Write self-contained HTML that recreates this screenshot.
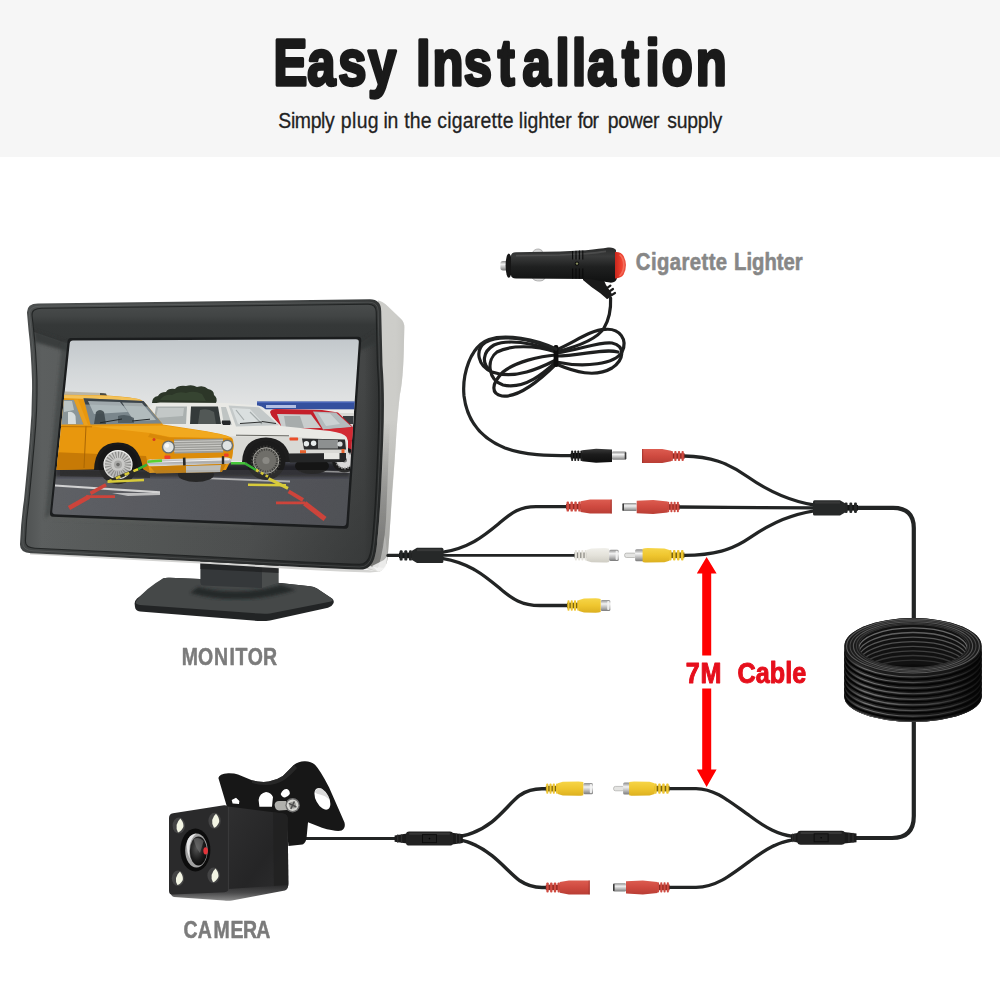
<!DOCTYPE html>
<html lang="en">
<head>
<meta charset="utf-8">
<title>Easy Installation</title>
<style>
html,body{margin:0;padding:0;background:#fff;}
body{width:1000px;height:1000px;overflow:hidden;font-family:"Liberation Sans",sans-serif;}
svg{display:block;}
text{font-family:"Liberation Sans",sans-serif;}
</style>
</head>
<body>
<svg width="1000" height="1000" viewBox="0 0 1000 1000">
<!-- defs -->
<defs>
  <linearGradient id="gFrame" gradientUnits="userSpaceOnUse" x1="24" y1="0" x2="382" y2="0">
    <stop offset="0" stop-color="#4e5151"/>
    <stop offset="0.05" stop-color="#5c5f5f"/>
    <stop offset="0.3" stop-color="#565958"/>
    <stop offset="0.65" stop-color="#4e5050"/>
    <stop offset="0.95" stop-color="#464848"/>
    <stop offset="1" stop-color="#2e3030"/>
  </linearGradient>
  <linearGradient id="gBand" gradientUnits="userSpaceOnUse" x1="30" y1="310" x2="300" y2="580">
    <stop offset="0" stop-color="#4c4f4f"/>
    <stop offset="0.45" stop-color="#424545"/>
    <stop offset="0.75" stop-color="#2e3030"/>
    <stop offset="1" stop-color="#262828"/>
  </linearGradient>
  <linearGradient id="gFaceDark" gradientUnits="userSpaceOnUse" x1="120" y1="400" x2="380" y2="580">
    <stop offset="0" stop-color="#2c2e2e" stop-opacity="0"/>
    <stop offset="0.6" stop-color="#2c2e2e" stop-opacity="0.08"/>
    <stop offset="1" stop-color="#2a2c2c" stop-opacity="0.6"/>
  </linearGradient>
  <linearGradient id="gSilverDark" gradientUnits="userSpaceOnUse" x1="0" y1="420" x2="0" y2="560">
    <stop offset="0" stop-color="#6e6e6c" stop-opacity="0"/>
    <stop offset="0.5" stop-color="#6e6e6c" stop-opacity="0.45"/>
    <stop offset="1" stop-color="#6a6a68" stop-opacity="0.8"/>
  </linearGradient>
  <linearGradient id="gHood" gradientUnits="userSpaceOnUse" x1="0" y1="300" x2="0" y2="345">
    <stop offset="0" stop-color="#2e3030"/>
    <stop offset="0.12" stop-color="#484b4b"/>
    <stop offset="0.35" stop-color="#424545"/>
    <stop offset="0.55" stop-color="#353838"/>
    <stop offset="1" stop-color="#333636"/>
  </linearGradient>
  <linearGradient id="gSilver" x1="0" y1="0" x2="1" y2="0">
    <stop offset="0" stop-color="#ececea"/>
    <stop offset="0.12" stop-color="#d6d6d2"/>
    <stop offset="0.8" stop-color="#d4d4d0"/>
    <stop offset="1" stop-color="#c6c6c2"/>
  </linearGradient>
  <linearGradient id="gSky" gradientUnits="userSpaceOnUse" x1="0" y1="338" x2="0" y2="410">
    <stop offset="0" stop-color="#c2c7cb"/>
    <stop offset="0.45" stop-color="#d3d7d9"/>
    <stop offset="1" stop-color="#e4e5e5"/>
  </linearGradient>
  <linearGradient id="gRoad" gradientUnits="userSpaceOnUse" x1="50" y1="470" x2="350" y2="520">
    <stop offset="0" stop-color="#585a60"/>
    <stop offset="0.5" stop-color="#4e5056"/>
    <stop offset="1" stop-color="#45474d"/>
  </linearGradient>
  <linearGradient id="gChrome" x1="0" y1="0" x2="0" y2="1">
    <stop offset="0" stop-color="#f4f4f4"/>
    <stop offset="0.5" stop-color="#a8a8a8"/>
    <stop offset="1" stop-color="#e0e0e0"/>
  </linearGradient>
  <linearGradient id="gMetalV" x1="0" y1="0" x2="0" y2="1">
    <stop offset="0" stop-color="#8a8a8a"/>
    <stop offset="0.35" stop-color="#f2f2f2"/>
    <stop offset="0.7" stop-color="#b5b5b5"/>
    <stop offset="1" stop-color="#7a7a7a"/>
  </linearGradient>
  <linearGradient id="gRedV" x1="0" y1="0" x2="0" y2="1">
    <stop offset="0" stop-color="#dc5c50"/>
    <stop offset="0.5" stop-color="#cf4a40"/>
    <stop offset="1" stop-color="#b93e35"/>
  </linearGradient>
  <linearGradient id="gYelV" x1="0" y1="0" x2="0" y2="1">
    <stop offset="0" stop-color="#f6d548"/>
    <stop offset="0.5" stop-color="#efc62f"/>
    <stop offset="1" stop-color="#dcb020"/>
  </linearGradient>
  <linearGradient id="gWhtV" x1="0" y1="0" x2="0" y2="1">
    <stop offset="0" stop-color="#f0efea"/>
    <stop offset="0.5" stop-color="#e4e2da"/>
    <stop offset="1" stop-color="#cfcdc4"/>
  </linearGradient>
  <linearGradient id="gBlkV" x1="0" y1="0" x2="0" y2="1">
    <stop offset="0" stop-color="#3a3a3a"/>
    <stop offset="0.4" stop-color="#1c1c1c"/>
    <stop offset="1" stop-color="#0e0e0e"/>
  </linearGradient>
  <clipPath id="clipScreen">
    <path d="M73,340.5 L356,339.2 Q359,339.2 358.8,342 L346.3,523 Q346,526 343,525.9 L55,514.2 Q52,514 52.3,511 L69.7,343.5 Q70,340.5 73,340.5 Z"/>
  </clipPath>
  <filter id="fNoise" x="0" y="0" width="100%" height="100%">
    <feTurbulence type="fractalNoise" baseFrequency="0.9" numOctaves="2" seed="3" result="n"/>
    <feColorMatrix type="matrix" values="0 0 0 0 0.5  0 0 0 0 0.5  0 0 0 0 0.5  0 0 0 0.35 0" in="n" result="n2"/>
    <feComposite in="n2" in2="SourceGraphic" operator="in" result="n3"/>
    <feBlend in="SourceGraphic" in2="n3" mode="soft-light"/>
  </filter>
  <filter id="fBlur1"><feGaussianBlur stdDeviation="0.6"/></filter>
  <filter id="fBlur2"><feGaussianBlur stdDeviation="1.5"/></filter>
  <filter id="fBlur3"><feGaussianBlur stdDeviation="3"/></filter>
</defs>
<!-- header -->
<rect x="0" y="0" width="1000" height="1000" fill="#ffffff"/>
<rect x="0" y="0" width="1000" height="157" fill="#f6f6f6"/>
<text transform="scale(0.78,1)" x="350.50 393.84 433.65 471.85 510.77 533.73 554.64 594.42 638.15 669.74 712.28 733.31 752.82 797.38 827.67 848.35 892.07" y="85.0" font-size="65.0" font-weight="bold" fill="#1a1a1a" stroke="#1a1a1a" stroke-width="3.3" stroke-linejoin="round">Easy Installation</text>
<text transform="scale(0.86,1)" x="323.66 338.28 342.84 361.22 373.33 377.90 389.30 396.37 409.32 414.73 427.69 438.95 445.96 450.61 461.86 470.04 476.48 489.22 500.93 508.49 520.04 525.30 538.12 550.93 558.70 571.52 578.04 584.56 596.28 603.28 608.31 613.33 625.91 638.49 644.77 657.35 664.65 671.84 677.31 689.06 694.77 706.60 718.81 731.03 747.00 759.21 766.51 775.80 786.83 799.13 811.43 823.73 828.48" y="128.4" font-size="22.6" fill="#222222" stroke="#222222" stroke-width="0.3" stroke-linejoin="round">Simply plug in the cigarette lighter for power supply</text>
<!-- monitor -->
<g id="monitor">
  <!-- stand base -->
  <path d="M163,578.4 Q165,577.6 170,577.8 L200,579 L280,583 L310,586.2 Q314,586.6 317,588.6 L332,598.6 Q335,601 333,604 Q332,606.6 328,607.8 L270,620.4 Q265,621.4 258,621 L140,611.4 Q135.4,611 135,607 L134.6,603.6 Q134.6,601 137,598.6 Z" fill="#222425"/>
  <path d="M163,578.4 Q165,577.6 170,577.8 L200,579 L280,583 L310,586.2 Q314,586.6 317,588.6 L332,598.6 Q334,600.4 331,601.4 L270,613.4 Q266,614 260,613.6 L140,605 Q134,604.4 136.6,600.6 Q146,588 163,578.4 Z" fill="#454848"/>
  <path d="M198,587 Q240,597 281,585 L296,590 Q240,607 190,593 Z" fill="#1f2122" opacity="0.8" filter="url(#fBlur2)"/>
  <!-- neck -->
  <path d="M200.4,560 L278.4,564 L278.4,583 L262,588 L203,585.5 Q200.4,585 200.4,582 Z" fill="#35383a"/>
  <path d="M262,565 L278.4,565 L278.4,583 L262,588 Z" fill="#4a4d4d"/>
  <path d="M200.4,560 L278.4,564 L278.4,573 L200.4,569 Z" fill="#1f2122" opacity="0.8"/>
  <!-- silver bottom strip -->
  <path d="M30,553 L110,557 L210,562 L300,567 L350,569.2 L364,569.6 L380,571.6 L370,572.4 L340,571.4 L300,569.6 L210,564 L110,558.8 L30,554.6 Z" fill="#d4d4d2"/>
  <!-- silver side -->
  <path d="M378,300.6 Q383,301.6 388,306.6 L400.5,318.5 Q404.6,322 404.3,328 L403.8,350 Q403,380 399.8,395 Q397,420 396,440 Q394,470 392.2,490 L389.4,535 L387.6,558 Q387,564 383.6,568 Q381,571.8 378,571.6 L362,568 Z" fill="url(#gSilver)"/>
  <path d="M378,300.6 Q383,301.6 388,306.6 L400.5,318.5 Q404.6,322 404.3,328 L403.8,350 Q403,380 399.8,395 Q397,420 396,440 Q394,470 392.2,490 L389.4,535 L387.6,558 Q387,564 383.6,568 Q381,571.8 378,571.6 L362,568 Z" fill="#c8c8c4" filter="url(#fNoise)" opacity="0.5"/>
  <path d="M387.6,558 Q387,564 383.6,568 Q381,571.8 378,571.6 L368,568 L378,558 L385,535 Z" fill="#f4f4f2" opacity="0.6"/>
  <path d="M384,400 L398,400 Q396,440 394,470 L389.4,535 L387.6,558 Q387,564 383.6,568 L370,566 L378,540 Q382,480 384,400 Z" fill="url(#gSilverDark)" opacity="0.55"/>
  <path d="M384,420 Q383,460 381,490 Q379.4,520 377.4,540 Q376.6,550 375,556 L370,566 L378,568 Q384,550 386,520 Q388,470 390,420 Z" fill="url(#gSilverDark)" filter="url(#fBlur1)"/>
  <path d="M372,566 L380,562 Q385,560 387.4,556 L386,566 Q383,571 378,571.6 Z" fill="#f6f6f4" opacity="0.85"/>
  <!-- outer frame -->
  <path d="M38,303.4 L370,299.3 Q381,299.3 381.2,311 L382.5,365 Q385,395 383.2,440 Q382,470 381,490 Q379.4,520 377.4,540 Q376.6,550 375,556 Q371.6,569.8 360,569.6 L350,569.2 L300,567 L210,562 L110,557 L31,553.2 Q19.5,552.6 20,544 Q21,520 24,500 Q27,470 29.5,442 Q32.5,410 32,380 Q31,350 28.5,330 L27,313 Q26.5,303.5 38,303.4 Z" fill="url(#gBand)"/>
  <!-- inner face -->
  <path id="face" d="M42,308.2 L368,304.2 Q376,304.2 376.2,312 L377.4,365 Q379.8,395 378.2,440 Q377,470 376,490 Q374.4,520 372.4,540 Q371.4,549 370.2,553.6 Q367.8,564.6 359,564.4 L350,564 L300,561.8 L210,556.8 L110,551.8 L35,548.2 Q25.2,547.8 25.4,541 Q26,520 29,500 Q32,470 34.4,442 Q37.4,410 37,380 Q36,350 33.6,330 L32,315 Q31.6,308.4 42,308.2 Z" fill="url(#gFrame)"/>
  <path d="M42,308.2 L368,304.2 Q376,304.2 376.2,312 L377.4,365 Q379.8,395 378.2,440 Q377,470 376,490 Q374.4,520 372.4,540 Q371.4,549 370.2,553.6 Q367.8,564.6 359,564.4 L350,564 L300,561.8 L210,556.8 L110,551.8 L35,548.2 Q25.2,547.8 25.4,541 Q26,520 29,500 Q32,470 34.4,442 Q37.4,410 37,380 Q36,350 33.6,330 L32,315 Q31.6,308.4 42,308.2 Z" fill="url(#gFaceDark)"/>
  <!-- hood (top bar) -->
  <path d="M42,308.2 L368,304.2 Q376,304.2 376.2,312 L377,332 L362,342 L66,343 L34,332 L32,315 Q31.6,308.4 42,308.2 Z" fill="url(#gHood)"/>
  <path d="M34,330 L66,341 L362,340 L377,330 L377.4,342 L362,350 L66,351 L35,342 Z" fill="#333636" opacity="0.8" filter="url(#fBlur2)"/>
  <!-- bezel shading near screen -->
  <g filter="url(#fBlur2)">
    <path d="M62,342 L70,342 L53,514 L45,518 Z" fill="#3e4141" opacity="0.6"/>
    <path d="M50,514 L250,522 L252,527 L46,519 Z" fill="#5c5f5e" opacity="0.5"/>
  </g>
  <!-- rim lines -->
  <path d="M42,308.2 L368,304.2 Q376,304.2 376.2,312 L377.4,365 Q379.8,395 378.2,440 Q377,470 376,490 Q374.4,520 372.4,540 Q371.4,549 370.2,553.6 Q367.8,564.6 359,564.4 L350,564 L300,561.8 L210,556.8 L110,551.8 L35,548.2 Q25.2,547.8 25.4,541 Q26,520 29,500 Q32,470 34.4,442 Q37.4,410 37,380 Q36,350 33.6,330 L32,315 Q31.6,308.4 42,308.2 Z" fill="none" stroke="#191b1b" stroke-width="1.1" opacity="0.8"/>
  <path d="M40,306.2 L369,302.2 Q378,302.2 378.2,311 L379.4,365 Q381.8,395 380.2,440 Q379,470 378,490 Q376.4,520 374.4,540 Q373.4,550 372.2,555 Q369.4,567.2 359.6,567 L350,566.6 L300,564.4 L210,559.4 L110,554.4 L33,550.8 Q22.6,550.2 22.8,542.4 Q23.4,520 26.4,500 Q29.4,470 31.8,442 Q34.8,410 34.4,380 Q33.4,350 31,330 L29.4,314 Q29,306.4 40,306.2 Z" fill="none" stroke="#7a7d7d" stroke-width="0.7" opacity="0.45"/>
  <!-- screen recess -->
  <path d="M71,338 L358,336.8 Q361.5,336.8 361.2,340.5 L348.6,525.4 Q348.2,529 344.6,528.8 L53,516.8 Q49.6,516.6 50,513 L67.5,341.5 Q68,338 71,338 Z" fill="#1b1d1e"/>
</g>
<!-- screen -->
<g id="screen" clip-path="url(#clipScreen)">
  <rect x="45" y="335" width="320" height="135" fill="url(#gSky)"/>
  <!-- far buildings / horizon -->
  <rect x="45" y="455" width="320" height="80" fill="url(#gRoad)"/>
  <!-- trees -->
  <path d="M152,403 Q152,397 158,396 Q160,392 166,392 Q168,388 175,389 Q178,385 186,386 Q192,384 197,387 Q204,385 208,389 Q214,390 214,395 Q218,398 216,403 Z" fill="#2c3628"/>
  <path d="M160,400 Q164,394 172,395 Q178,391 186,393 Q194,390 202,394 L206,401 Z" fill="#3b4a34" opacity="0.7"/>
  <!-- blue building -->
  <rect x="257" y="401.6" width="100" height="8" fill="#34509e"/>
  <rect x="257" y="401.6" width="100" height="1.4" fill="#4a66b8"/>
  <rect x="266" y="405" width="30" height="3" fill="#c9d2ee" opacity="0.85"/>
  <rect x="257" y="409.5" width="100" height="4" fill="#ecebe8"/>
  <rect x="330" y="413" width="30" height="16" fill="#d8d8d4"/>
  <rect x="343" y="416" width="14" height="8" fill="#3a3d40"/>

  <!-- road shading under cars -->
  <path d="M55,467 L350,463 L350,477 L55,477 Z" fill="#1e1f21" opacity="0.85" filter="url(#fBlur2)"/>
  <!-- white parking lines -->
  <path d="M55,484.4 L160,491.2 L160,493.4 L55,486.6 Z" fill="#e4e4e4"/>
  <path d="M112,493 L160,493 L160,495 L128,496 Z" fill="#d8d8d8" opacity="0.9"/>
  <path d="M210,477.4 L290,480.4 L290,482.4 L210,479.2 Z" fill="#d0d0d0" opacity="0.85"/>
  <path d="M300,470 L350,471.5 L350,473 L300,471.5 Z" fill="#c8c8c8" opacity="0.7"/>

  <!-- ===== red car ===== -->
  <g>
    <path d="M270,412 Q271,409 276,409 L322,410 L338,412.5 L354,428 L360,432 L360,458 L300,458 L290,440 L276,428 Z" fill="#c41f2a"/>
    <path d="M277,414 L311,414.5 L321,428 L282,428.5 Z" fill="#c9cdcd"/>
    <path d="M284,416 L300,416 L304,428 L286,428 Z" fill="#9fa4a4" opacity="0.8"/>
    <path d="M313,411.5 L336,412.5 L352,427 L323,429.5 Z" fill="#b3babc"/>
    <path d="M318,413 L330,413.5 L340,424 L326,426 Z" fill="#d6dbdc" opacity="0.7"/>
    <path d="M324,429.5 L352,427.5 L360,434 L360,440 L336,440 Z" fill="#d22a33"/>
    <circle cx="344.5" cy="460" r="12.5" fill="#1a1a1a"/>
    <circle cx="344.5" cy="460" r="8.5" fill="#d9d9d9"/>
    <circle cx="344.5" cy="460" r="8.5" fill="none" stroke="#8a8a8a" stroke-width="2" stroke-dasharray="1.5 1.5"/>
    <circle cx="344.5" cy="460" r="2.5" fill="#777"/>
  </g>

  <!-- ===== white car ===== -->
  <g>
    <!-- far wheel -->
    <ellipse cx="312" cy="466" rx="17" ry="8" fill="#151515"/>
    <!-- body -->
    <path d="M150,408 Q152,403 160,402.6 L226,403 L258,405.4 Q262,406 264,408 L281,426 L330,431 Q344,433 346.5,437 L348,441 L348,452 L344,460 L290,462 L150,462 Z" fill="#e9e9e5"/>
    <path d="M150,436 L290,436.5 L346,441 L348,452 L344,460 L150,462 Z" fill="#d9d9d5"/>
    <path d="M236,435.2 L289,435.8" stroke="#55554f" stroke-width="0.9"/>
    <!-- windows -->
    <path d="M156,406.5 L187,406.5 L186,424 L153,424 Z" fill="#aab0af"/>
    <path d="M158,408 L184,408 L183,416 L156,418 Z" fill="#c9cecd" opacity="0.8"/>
    <path d="M191,406.5 L218,406.5 L221,424 L190,424 Z" fill="#343a3a"/>
    <path d="M200,410 Q208,408 214,412 L216,424 L198,424 Z" fill="#555c5a" opacity="0.9"/>
    <path d="M221,407 L226,407 L232,425 L224,425 Z" fill="#bfc4c3"/>
    <path d="M228.6,405.5 L259,407.2 L279,425.2 L236,426.6 Z" fill="#c4c9c9"/>
    <path d="M232,408 L250,409 L262,422 L238,424 Z" fill="#e2e5e5" opacity="0.75"/>
    <path d="M236,410 L244,420 M250,412 L262,424" stroke="#8f9696" stroke-width="1.2" opacity="0.7"/>
    <path d="M240,423.5 L262,422 M262,421.5 L276,423.5" stroke="#2e3030" stroke-width="1"/>
    <!-- mirror -->
    <path d="M222,420.5 L230,420.5 Q231.5,423 230,425 L223,425 Q221,423 222,420.5 Z" fill="#26282a"/>
    <!-- wheel arch + wheel -->
    <path d="M242,462 Q243,438 266,437.5 Q288,438 291,462 Z" fill="#1d1d1d"/>
    <circle cx="266" cy="460.5" r="19.5" fill="#1b1b1b"/>
    <circle cx="266" cy="460.5" r="12.5" fill="#6f6e69"/>
    <circle cx="266" cy="460.5" r="12.5" fill="none" stroke="#3b3b38" stroke-width="5" stroke-dasharray="1.2 1.6"/>
    <circle cx="266" cy="460.5" r="12.8" fill="none" stroke="#a9a8a2" stroke-width="1"/>
    <circle cx="266" cy="460.5" r="3.6" fill="#8a8984"/>
    <!-- turn signal -->
    <rect x="289.5" y="437.6" width="8.6" height="2.8" rx="0.6" fill="#ea4f2a"/>
    <!-- front fascia -->
    <path d="M302,438.5 L345,439.5 L346,449.5 L304,449.5 Z" fill="#2b2c2d"/>
    <path d="M318,439.5 L338,440 L338,448.5 L318,448.5 Z" fill="#8d9090"/>
    <circle cx="306.4" cy="443.8" r="2.7" fill="#e8ecec"/>
    <circle cx="313.6" cy="443.2" r="2.7" fill="#e8ecec"/>
    <circle cx="340" cy="444" r="2.6" fill="#d8dcdc"/>
    <rect x="300" y="450.2" width="6" height="3.2" fill="#e6632f"/>
    <rect x="341.5" y="449" width="3" height="4" fill="#e6632f"/>
    <!-- bumper -->
    <path d="M288,453.5 L346,453 L346,459.5 L344,462 L290,462.5 Z" fill="#252627"/>
    <rect x="324" y="453" width="15.5" height="6.2" fill="#e6e6e2"/>
  </g>

  <!-- ===== yellow car ===== -->
  <path d="M65,391.6 L104,393 L106,395.2 L64,395 Z" fill="#b9b4a4"/>
  <path d="M100,393 L106,393.6 L107,396 L100,395.4 Z" fill="#4a4a44"/>
  <g>
    <!-- shadow & far wheel -->
    <ellipse cx="196" cy="474.5" rx="18" ry="7.5" fill="#141414"/>
    <path d="M60,470 L150,472 L150,478 L60,476 Z" fill="#1c1c1c" opacity="0.8"/>
    <!-- body -->
    <path d="M50,398 Q52,394.5 64,394.8 L100,395.2 Q130,396.5 140,399.5 Q144,401 146,404 L163,424.5 L205,431 Q228,435 232,438 Q234,440 233.6,446 L232,458 L226,470 L150,473 L142,468 L50,470 Z" fill="#e8970d"/>
    <!-- roof highlight -->
    <path d="M60,395 L100,395.4 Q130,396.6 140,399.6 L141,401 L60,398 Z" fill="#f3c562" opacity="0.9"/>
    <!-- lower body darker -->
    <path d="M50,452 L146,456 L150,473 L142,468.6 L50,470 Z" fill="#c77a06"/>
    <!-- hood highlight -->
    <path d="M92,426.6 L164,425.4 L206,431.6 Q226,435 231,438 L170,437 L150,433 Z" fill="#f1a91f"/>
    <path d="M150,433.5 L170,437.5 L231,438.6 L232,441 L168,441 L148,437 Z" fill="#d88909"/>
    <!-- door lines -->
    <path d="M86,426 L84,468" stroke="#a96604" stroke-width="1"/>
    <path d="M50,426.5 L92,426.8" stroke="#b87006" stroke-width="0.9"/>
    <!-- windows -->
    <path d="M62,400 L74,400 L83.5,424.5 L61,424.5 Z" fill="#8b9699"/>
    <path d="M64,401 L72,401 L74,410 L64,412 Z" fill="#c7cfd0" opacity="0.8"/>
    <path d="M68,412 Q73,411 75.5,416 L76,424 L68,424 Z" fill="#dfe4e4" opacity="0.9"/>
    <path d="M74,399.5 L78,399.5 L88,425 L84,425 Z" fill="#e9a020"/>
    <path d="M83.5,398.2 L143.5,401 L162,423.6 L90.5,424.6 Z" fill="#7a868c"/>
    <path d="M83.5,398.2 L143.5,401 L148,406.5 L85.5,404.4 Z" fill="#353d42" opacity="0.9"/>
    <path d="M88,401 L120,402 L128,412 L94,414 Z" fill="#b9c3c6" opacity="0.8"/>
    <path d="M122,402.5 L142,403 L156,420 L134,421 Z" fill="#c4cccc" opacity="0.75"/>
    <path d="M96,412 Q100,408 104,412 L106,424 L94,424 Z" fill="#3e484d" opacity="0.9"/>
    <path d="M118,416 Q126,413 134,418 L134,423 L118,423 Z" fill="#48545a" opacity="0.8"/>
    <path d="M100,422.8 L122,419 M132,421 L150,419.2" stroke="#22282b" stroke-width="1"/>
    <!-- front wheel arch + wheel -->
    <path d="M94,470 Q95,443 118,442.6 Q140,443 143,470 Z" fill="#1a1a1a"/>
    <circle cx="118" cy="464.6" r="19.6" fill="#161616"/>
    <circle cx="118" cy="464.6" r="14" fill="#c9c9c7"/>
    <circle cx="118" cy="464.6" r="10" fill="none" stroke="#8e8e8c" stroke-width="6.5" stroke-dasharray="1.1 1.5"/>
    <circle cx="118" cy="464.6" r="14" fill="none" stroke="#eeeeec" stroke-width="1.2"/>
    <circle cx="118" cy="464.6" r="4" fill="#a9a9a7"/>
    <circle cx="118" cy="464.6" r="1.8" fill="#6a6a68"/>
    <!-- front face -->
    <path d="M164,440 L232,438.4 L233.6,446 L232,458 L166,461 Z" fill="#dc8c0a"/>
    <path d="M174,439.6 L223,438.6 L223.4,452.4 L174.4,453.6 Z" fill="#9c9c98"/>
    <path d="M174,441.6 L223,440.6 M174,444 L223,443 M174,446.4 L223,445.4 M174,448.8 L223,447.8 M174,451.2 L223,450.2" stroke="#d8d8d4" stroke-width="0.8"/>
    <circle cx="168.4" cy="447" r="6.6" fill="#6a6f70"/>
    <circle cx="168.4" cy="447" r="5.2" fill="#dfe3e3"/>
    <circle cx="167" cy="445.6" r="2.2" fill="#ffffff" opacity="0.8"/>
    <circle cx="227.2" cy="445.6" r="6" fill="#6a6f70"/>
    <circle cx="227.2" cy="445.6" r="4.6" fill="#dfe3e3"/>
    <circle cx="154" cy="439.6" r="1.5" fill="#d73a22"/>
    <rect x="164.4" y="455.6" width="6" height="3.4" rx="1" fill="#ee3f2a"/>
    <rect x="224" y="453.4" width="4.6" height="3.4" rx="1" fill="#ee3f2a"/>
    <!-- bumper -->
    <path d="M147,461.6 Q147.5,459 152,459.4 L226,457.4 Q231,457.4 231.4,460 Q231.6,463 228,463.8 L152,466.6 Q147,466.6 147,461.6 Z" fill="url(#gChrome)"/>
    <path d="M149,462.4 L229,459.6" stroke="#ffffff" stroke-width="0.9" opacity="0.9"/>
    <rect x="183" y="457.6" width="2.6" height="10.5" fill="#2a2a2a" transform="rotate(-2 184 462)"/>
    <rect x="221.8" y="456.2" width="2.4" height="9.6" fill="#2a2a2a"/>
    <!-- apron + plate -->
    <path d="M150,466.6 L226,464 L222,472 L156,473.4 Z" fill="#c97f08"/>
    <path d="M186,466 L221,465 L220,472 L186,472.8 Z" fill="#bdbdb9"/>
  </g>

  <!-- ===== guide lines ===== -->
  <g stroke-linecap="butt" fill="none">
    <!-- left -->
    <path d="M147.5,461.8 L162,460.6" stroke="#57d132" stroke-width="2.6"/>
    <path d="M147,464.6 L138,469.2" stroke="#35b035" stroke-width="2.6"/>
    <path d="M138,469.2 L108,481.6" stroke="#1b1b10" stroke-width="3"/>
    <path d="M138,469.2 L108,481.6" stroke="#ecd92a" stroke-width="2.6" stroke-dasharray="5 4.5"/>
    <path d="M107.5,481.8 L144,480" stroke="#ecdc2c" stroke-width="2.6"/>
    <path d="M106,484.8 L90.5,493.4" stroke="#de382c" stroke-width="3.6"/>
    <path d="M86,496.6 L115,496.6" stroke="#de382c" stroke-width="2.6"/>
    <path d="M89,496.8 L69,508" stroke="#de382c" stroke-width="4.6"/>
    <!-- right -->
    <path d="M231,463.2 L245,463.2" stroke="#46c63a" stroke-width="2.4"/>
    <path d="M245,463.4 L256,470" stroke="#35b035" stroke-width="2.6"/>
    <path d="M256,470 L268,476.6" stroke="#e6d62a" stroke-width="2.6" stroke-dasharray="3 2.5"/>
    <path d="M268.6,478.6 L288,488.4" stroke="#ecdc2c" stroke-width="3.2"/>
    <path d="M248,484.8 L286,485.2" stroke="#ecdc2c" stroke-width="2.6"/>
    <path d="M288.6,491.4 L303,500" stroke="#de382c" stroke-width="3.8"/>
    <path d="M276,502.8 L305,502.8" stroke="#de382c" stroke-width="2.8"/>
    <path d="M304.6,503.2 L325,519" stroke="#de382c" stroke-width="5"/>
  </g>
  <!-- road noise overlay -->
  <rect x="45" y="470" width="320" height="60" fill="#777" filter="url(#fNoise)" opacity="0.18"/>
</g>
<!-- lighter -->
<g id="lighter">
  <defs>
    <linearGradient id="gLtBody" x1="0" y1="0" x2="0" y2="1">
      <stop offset="0" stop-color="#2a2b2b"/>
      <stop offset="0.25" stop-color="#3a3b3b"/>
      <stop offset="0.55" stop-color="#1f2020"/>
      <stop offset="1" stop-color="#101111"/>
    </linearGradient>
    <linearGradient id="gLtRed" x1="0" y1="0" x2="1" y2="0">
      <stop offset="0" stop-color="#c8261c"/>
      <stop offset="0.6" stop-color="#f0402e"/>
      <stop offset="1" stop-color="#e8594a"/>
    </linearGradient>
  </defs>
  <!-- cable bundle -->
  <g fill="none" stroke="#1e1f1f" stroke-width="3.2" stroke-linecap="round">
    <path d="M610.6,298 C611,308 610,318 604,328 C598,338 580,346 556,352"/>
    <path d="M556,350 C530,338 500,334 486,342 C474,350 478,366 492,372 C515,380 540,368 556,360"/>
    <path d="M556,352 C535,345 510,345 497,352 C486,360 488,380 503,385 C525,390 545,372 556,362"/>
    <path d="M556,355 C540,356 515,362 503,372 C491,384 491,394 502,396 C520,398 545,375 556,364"/>
    <path d="M556,350 C575,342 590,330 605,329.4 C620,328 628,340 622,352 C615,364 585,368 556,362"/>
    <path d="M556,353 C580,350 600,341 612,343 C626,346 624,360 612,368 C595,378 575,372 556,364"/>
    <path d="M556,356 C580,356 604,348 618,352"/>
    <path d="M556,351 C532,343 508,339 494,345 C482,352 482,364 490,370"/>
  </g>
  <rect x="553.6" y="345" width="4.8" height="22" rx="2" fill="#0d0d0d"/>
  <!-- boot -->
  <path d="M583,276 L598,275 Q604,279 606,285 L612,294 L607,299 L600,293 Q592,288 583,280 Z" fill="#1a1a1a"/>
  <g stroke="#1a1a1a" stroke-width="2.2" stroke-linecap="round">
    <path d="M603.4,290.6 L610.4,285.6"/>
    <path d="M605.6,294 L613,289"/>
    <path d="M607.6,297.6 L615,293"/>
  </g>
  <!-- springs -->
  <path d="M532,253.5 Q534,248.6 539,249 Q542.6,249.4 543,253.5 Z" fill="#d9d9d9" stroke="#8a8a8a" stroke-width="0.6"/>
  <path d="M532,277.5 Q534,281.4 540,281 Q544.6,280.6 545,277.5 Z" fill="#d9d9d9" stroke="#8a8a8a" stroke-width="0.6"/>
  <!-- tip -->
  <rect x="500.4" y="261" width="7.6" height="9.4" rx="2.6" fill="url(#gMetalV)"/>
  <!-- collar -->
  <ellipse cx="508.8" cy="265.6" rx="3.2" ry="12.2" fill="#161616"/>
  <!-- body -->
  <path d="M511,256 Q511,252.4 516,252.2 L560,251.6 L586,250.2 Q600,249 608,247.6 Q614,247 616,250 L617,278 Q616,283 610,282.6 Q600,281 590,279 L516,278.6 Q511,278.4 511,275 Z" fill="url(#gLtBody)"/>
  <path d="M516,255.6 L560,255 L586,253.6 Q598,252.6 606,251.4" stroke="#565757" stroke-width="1.6" fill="none" opacity="0.7" filter="url(#fBlur1)"/>
  <!-- ribs -->
  <g stroke="#0a0a0a" stroke-width="1.1" opacity="0.95">
    <path d="M572.6,251 L572.6,259.4 M576,250.8 L576,259.6 M579.4,250.6 L579.4,259.6 M582.8,250.4 L582.8,259.4"/>
    <path d="M572.6,268.6 L572.6,278.6 M576,268.6 L576,278.6 M579.4,268.6 L579.4,278.6 M582.8,268.6 L582.8,278.6"/>
  </g>
  <g stroke="#4a4b4b" stroke-width="0.8" opacity="0.8">
    <path d="M574.3,251 L574.3,259.4 M577.7,250.8 L577.7,259.6 M581.1,250.6 L581.1,259.6"/>
  </g>
  <circle cx="577" cy="263.6" r="2.2" fill="#0c0c0c"/>
  <circle cx="577" cy="263.6" r="1.2" fill="#8a8f60"/>
  <!-- red button -->
  <path d="M615,252 Q621,251.4 623.6,256 Q626,261 626,265 Q626,270 623.6,274.6 Q621,278.6 615,278.4 Z" fill="url(#gLtRed)"/>
  <path d="M619.6,254.6 Q623.6,258 623.8,265 Q623.6,272 619.6,276" fill="none" stroke="#f67a68" stroke-width="1.6" opacity="0.7"/>
</g>
<!-- cables -->
<g id="cables">
<path d="M388,555.4 L400,555.4" fill="none" stroke="#222424" stroke-width="3.3" stroke-linecap="round" stroke-linejoin="round"/>
<path d="M442,552.4 C470,548 485,535 500,522.6 C512,512.4 520,506.6 536,506.6 L567,506.6" fill="none" stroke="#222424" stroke-width="3.3" stroke-linecap="round" stroke-linejoin="round"/>
<path d="M442,555.4 L575,555.4" fill="none" stroke="#222424" stroke-width="2.9" stroke-linecap="round" stroke-linejoin="round"/>
<path d="M442,558.4 C470,563 485,576 500,588.5 C512,599 522,605.5 540,605.5 L568,605.5" fill="none" stroke="#222424" stroke-width="3.3" stroke-linecap="round" stroke-linejoin="round"/>
<path d="M684,456 C710,456.6 728,462.4 748,477 C770,492.4 790,501 814,505" fill="none" stroke="#222424" stroke-width="3.3" stroke-linecap="round" stroke-linejoin="round"/>
<path d="M679,507 L760,507.6 L814,507.8" fill="none" stroke="#222424" stroke-width="3.3" stroke-linecap="round" stroke-linejoin="round"/>
<path d="M684,555.3 C714,555.3 732,550 750,537.6 C774,521.6 792,514.5 814,510.8" fill="none" stroke="#222424" stroke-width="3.3" stroke-linecap="round" stroke-linejoin="round"/>
<path d="M857,507.8 L893,507.8 Q913.8,507.8 913.8,528 L913.8,625" fill="none" stroke="#222424" stroke-width="4.2" stroke-linecap="round" stroke-linejoin="round"/>
<path d="M913.8,718 L913.8,816 Q913.8,838 892,838 L856,838" fill="none" stroke="#222424" stroke-width="4.2" stroke-linecap="round" stroke-linejoin="round"/>
<path d="M669,788.6 L696,788.6 C716,789 730,802 750,816 C766,828 778,834.5 793,836.4" fill="none" stroke="#222424" stroke-width="3.3" stroke-linecap="round" stroke-linejoin="round"/>
<path d="M669,887.4 L696,887.4 C716,887 730,876 750,861 C766,849 778,842 793,839.8" fill="none" stroke="#222424" stroke-width="3.3" stroke-linecap="round" stroke-linejoin="round"/>
<path d="M462,836 C474,833.4 484,828 492,821.8 C503,813 512,801 520,795.2 C527,790.4 533,788.8 542,788.8 L547,788.8" fill="none" stroke="#222424" stroke-width="3.5" stroke-linecap="round" stroke-linejoin="round"/>
<path d="M462,840.4 C474,843 484,849.4 492,855.6 C503,864.4 512,875 520,880.8 C527,885.6 533,887.4 542,887.4 L547,887.4" fill="none" stroke="#222424" stroke-width="3.5" stroke-linecap="round" stroke-linejoin="round"/>
<path d="M304,838.6 L396,838.6" fill="none" stroke="#222424" stroke-width="3.0" stroke-linecap="round" stroke-linejoin="round"/>
<path d="M556,349 C535,339 506,334 489,339.4 C470,346 462,375 464,396 C467,420 480,438 505,448 C525,455.4 548,455.7 572,455.7" fill="none" stroke="#222424" stroke-width="3.2" stroke-linecap="round" stroke-linejoin="round"/>
</g>
<!-- connectors -->
<g id="connectors">
<g><rect x="570.70" y="452.84" width="12.39" height="5.72" fill="#0a0a0a"/><rect x="571.16" y="450.50" width="1.92" height="10.40" rx="0.77" fill="#1e1e1e"/><rect x="574.26" y="450.50" width="1.92" height="10.40" rx="0.77" fill="#1e1e1e"/><rect x="577.36" y="450.50" width="1.92" height="10.40" rx="0.77" fill="#1e1e1e"/><rect x="580.46" y="450.50" width="1.92" height="10.40" rx="0.77" fill="#1e1e1e"/><rect x="612.00" y="451.60" width="14.30" height="8.20" rx="1.2" fill="url(#gMetalV)"/><rect x="624.70" y="452.20" width="1.6" height="7.00" rx="0.6" fill="#3a3a3a"/><path d="M612.00,449.50 L596.10,448.70 L582.09,450.20 L582.09,461.20 L596.10,462.70 L612.00,461.90 Z" fill="url(#gBlkV)"/></g>
<g><rect x="670.12" y="453.25" width="14.48" height="5.50" fill="#8f2a24"/><rect x="670.66" y="451.00" width="2.25" height="10.00" rx="0.91" fill="#cf4a40"/><rect x="674.28" y="451.00" width="2.25" height="10.00" rx="0.91" fill="#cf4a40"/><rect x="677.90" y="451.00" width="2.25" height="10.00" rx="0.91" fill="#cf4a40"/><rect x="681.52" y="451.00" width="2.25" height="10.00" rx="0.91" fill="#cf4a40"/><path d="M642.00,449.00 L662.24,449.00 L671.12,450.70 L671.12,461.30 L662.24,463.00 L642.00,463.00 Z" fill="url(#gRedV)"/><rect x="642.00" y="449.00" width="1.2" height="14.00" fill="#8f2a24" opacity="0.55"/></g>
<g><rect x="566.00" y="503.85" width="15.57" height="5.50" fill="#8f2a24"/><rect x="566.58" y="501.60" width="2.41" height="10.00" rx="0.97" fill="#cf4a40"/><rect x="570.48" y="501.60" width="2.41" height="10.00" rx="0.97" fill="#cf4a40"/><rect x="574.37" y="501.60" width="2.41" height="10.00" rx="0.97" fill="#cf4a40"/><rect x="578.26" y="501.60" width="2.41" height="10.00" rx="0.97" fill="#cf4a40"/><path d="M611.80,499.60 L590.04,499.60 L580.57,501.30 L580.57,511.90 L590.04,513.60 L611.80,513.60 Z" fill="url(#gRedV)"/><rect x="610.60" y="499.60" width="1.2" height="14.00" fill="#8f2a24" opacity="0.55"/></g>
<g><rect x="666.73" y="504.14" width="12.87" height="5.72" fill="#8f2a24"/><rect x="667.21" y="501.80" width="1.99" height="10.40" rx="0.80" fill="#cf4a40"/><rect x="670.43" y="501.80" width="1.99" height="10.40" rx="0.80" fill="#cf4a40"/><rect x="673.65" y="501.80" width="1.99" height="10.40" rx="0.80" fill="#cf4a40"/><rect x="676.87" y="501.80" width="1.99" height="10.40" rx="0.80" fill="#cf4a40"/><rect x="622.40" y="502.90" width="14.30" height="8.20" rx="1.2" fill="url(#gMetalV)"/><rect x="622.40" y="503.50" width="1.6" height="7.00" rx="0.6" fill="#3a3a3a"/><path d="M636.70,500.80 L653.22,500.00 L667.73,501.50 L667.73,512.50 L653.22,514.00 L636.70,513.20 Z" fill="url(#gRedV)"/></g>
<g><rect x="574.40" y="552.44" width="13.00" height="5.72" fill="#8d8b84"/><rect x="574.89" y="550.10" width="2.02" height="10.40" rx="0.81" fill="#e6e4dc"/><rect x="578.14" y="550.10" width="2.02" height="10.40" rx="0.81" fill="#e6e4dc"/><rect x="581.39" y="550.10" width="2.02" height="10.40" rx="0.81" fill="#e6e4dc"/><rect x="584.64" y="550.10" width="2.02" height="10.40" rx="0.81" fill="#e6e4dc"/><rect x="609.10" y="549.70" width="9.70" height="11.20" rx="1.5" fill="url(#gMetalV)"/><rect x="615.60" y="550.70" width="2.2" height="9.20" rx="1" fill="#f4f4f4" opacity="0.9"/><path d="M609.10,548.70 Q607.10,548.10 604.10,548.10 L591.40,548.40 L586.40,549.90 L586.40,560.70 L591.40,562.20 L604.10,562.50 Q607.10,562.50 609.10,561.90 Z" fill="url(#gWhtV)"/></g>
<g><rect x="668.40" y="552.44" width="16.00" height="5.72" fill="#7a6410"/><rect x="669.00" y="550.10" width="2.48" height="10.40" rx="1.00" fill="#efc62f"/><rect x="673.00" y="550.10" width="2.48" height="10.40" rx="1.00" fill="#efc62f"/><rect x="677.00" y="550.10" width="2.48" height="10.40" rx="1.00" fill="#efc62f"/><rect x="681.00" y="550.10" width="2.48" height="10.40" rx="1.00" fill="#efc62f"/><rect x="624.60" y="553.10" width="11.50" height="4.40" rx="1.8" fill="#e4e4e2" stroke="#a0a09c" stroke-width="0.6"/><rect x="635.10" y="549.30" width="8.50" height="12.00" rx="1.5" fill="url(#gMetalV)"/><path d="M642.60,548.70 Q644.60,548.10 647.60,548.10 L664.40,548.40 L669.40,549.90 L669.40,560.70 L664.40,562.20 L647.60,562.50 Q644.60,562.50 642.60,561.90 Z" fill="url(#gYelV)"/></g>
<g><rect x="567.00" y="602.64" width="13.00" height="5.72" fill="#7a6410"/><rect x="567.49" y="600.30" width="2.02" height="10.40" rx="0.81" fill="#efc62f"/><rect x="570.74" y="600.30" width="2.02" height="10.40" rx="0.81" fill="#efc62f"/><rect x="573.99" y="600.30" width="2.02" height="10.40" rx="0.81" fill="#efc62f"/><rect x="577.24" y="600.30" width="2.02" height="10.40" rx="0.81" fill="#efc62f"/><rect x="600.70" y="599.90" width="9.70" height="11.20" rx="1.5" fill="url(#gMetalV)"/><rect x="607.20" y="600.90" width="2.2" height="9.20" rx="1" fill="#f4f4f4" opacity="0.9"/><path d="M600.70,598.90 Q598.70,598.30 595.70,598.30 L584.00,598.60 L579.00,600.10 L579.00,610.90 L584.00,612.40 L595.70,612.70 Q598.70,612.70 600.70,612.10 Z" fill="url(#gYelV)"/></g>
<g><rect x="545.80" y="785.74" width="13.00" height="5.72" fill="#7a6410"/><rect x="546.29" y="783.40" width="2.02" height="10.40" rx="0.81" fill="#efc62f"/><rect x="549.54" y="783.40" width="2.02" height="10.40" rx="0.81" fill="#efc62f"/><rect x="552.79" y="783.40" width="2.02" height="10.40" rx="0.81" fill="#efc62f"/><rect x="556.04" y="783.40" width="2.02" height="10.40" rx="0.81" fill="#efc62f"/><rect x="583.30" y="783.00" width="9.70" height="11.20" rx="1.5" fill="url(#gMetalV)"/><rect x="589.80" y="784.00" width="2.2" height="9.20" rx="1" fill="#f4f4f4" opacity="0.9"/><path d="M583.30,782.00 Q581.30,781.40 578.30,781.40 L562.80,781.70 L557.80,783.20 L557.80,794.00 L562.80,795.50 L578.30,795.80 Q581.30,795.80 583.30,795.20 Z" fill="url(#gYelV)"/></g>
<g><rect x="653.60" y="785.74" width="16.00" height="5.72" fill="#7a6410"/><rect x="654.20" y="783.40" width="2.48" height="10.40" rx="1.00" fill="#efc62f"/><rect x="658.20" y="783.40" width="2.48" height="10.40" rx="1.00" fill="#efc62f"/><rect x="662.20" y="783.40" width="2.48" height="10.40" rx="1.00" fill="#efc62f"/><rect x="666.20" y="783.40" width="2.48" height="10.40" rx="1.00" fill="#efc62f"/><rect x="613.60" y="786.40" width="10.50" height="4.40" rx="1.8" fill="#e4e4e2" stroke="#a0a09c" stroke-width="0.6"/><rect x="623.10" y="782.60" width="7.00" height="12.00" rx="1.5" fill="url(#gMetalV)"/><path d="M629.10,782.00 Q631.10,781.40 634.10,781.40 L649.60,781.70 L654.60,783.20 L654.60,794.00 L649.60,795.50 L634.10,795.80 Q631.10,795.80 629.10,795.20 Z" fill="url(#gYelV)"/></g>
<g><rect x="545.80" y="884.65" width="14.96" height="5.50" fill="#8f2a24"/><rect x="546.36" y="882.40" width="2.32" height="10.00" rx="0.94" fill="#cf4a40"/><rect x="550.10" y="882.40" width="2.32" height="10.00" rx="0.94" fill="#cf4a40"/><rect x="553.84" y="882.40" width="2.32" height="10.00" rx="0.94" fill="#cf4a40"/><rect x="557.58" y="882.40" width="2.32" height="10.00" rx="0.94" fill="#cf4a40"/><path d="M589.80,880.40 L568.89,880.40 L559.76,882.10 L559.76,892.70 L568.89,894.40 L589.80,894.40 Z" fill="url(#gRedV)"/><rect x="588.60" y="880.40" width="1.2" height="14.00" fill="#8f2a24" opacity="0.55"/></g>
<g><rect x="656.52" y="884.54" width="13.08" height="5.72" fill="#8f2a24"/><rect x="657.01" y="882.20" width="2.03" height="10.40" rx="0.82" fill="#cf4a40"/><rect x="660.28" y="882.20" width="2.03" height="10.40" rx="0.82" fill="#cf4a40"/><rect x="663.55" y="882.20" width="2.03" height="10.40" rx="0.82" fill="#cf4a40"/><rect x="666.82" y="882.20" width="2.03" height="10.40" rx="0.82" fill="#cf4a40"/><rect x="613.00" y="883.30" width="13.00" height="8.20" rx="1.2" fill="url(#gMetalV)"/><rect x="613.00" y="883.90" width="1.6" height="7.00" rx="0.6" fill="#3a3a3a"/><path d="M626.00,881.20 L642.79,880.40 L657.52,881.90 L657.52,892.90 L642.79,894.40 L626.00,893.60 Z" fill="url(#gRedV)"/></g>
<g><rect x="399.00" y="552.54" width="14.00" height="5.72" fill="#151616"/><rect x="399.70" y="550.20" width="2.89" height="10.40" rx="1.17" fill="#242626"/><rect x="404.37" y="550.20" width="2.89" height="10.40" rx="1.17" fill="#242626"/><rect x="409.03" y="550.20" width="2.89" height="10.40" rx="1.17" fill="#242626"/><path d="M412.00,550.80 L417.00,547.80 L441.90,547.80 Q443.40,547.80 443.40,549.30 L443.40,561.50 Q443.40,563.00 441.90,563.00 L417.00,563.00 L412.00,560.00 Z" fill="#262828"/><rect x="417.00" y="549.00" width="24.40" height="2.2" fill="#3c3c3c" opacity="0.8"/></g>
<g><rect x="844.00" y="504.94" width="14.00" height="5.72" fill="#151616"/><rect x="844.70" y="502.60" width="2.89" height="10.40" rx="1.17" fill="#242626"/><rect x="849.37" y="502.60" width="2.89" height="10.40" rx="1.17" fill="#242626"/><rect x="854.03" y="502.60" width="2.89" height="10.40" rx="1.17" fill="#242626"/><path d="M845.00,503.20 L840.00,500.20 L814.50,500.20 Q813.00,500.20 813.00,501.70 L813.00,513.90 Q813.00,515.40 814.50,515.40 L840.00,515.40 L845.00,512.40 Z" fill="#262828"/><rect x="815.00" y="501.40" width="25.00" height="2.2" fill="#3c3c3c" opacity="0.8"/></g>
<g><path d="M394.60,835.40 L407.00,833.60 L407.00,843.60 L394.60,841.80 Z" fill="#1b1b1b"/><path d="M462.80,834.20 L452.00,832.80 L452.00,844.40 L462.80,843.00 Z" fill="#1b1b1b"/><rect x="406.00" y="831.60" width="47.00" height="14.00" rx="3.2" fill="#222222"/><rect x="409.00" y="832.80" width="41.00" height="2" rx="1" fill="#3d3d3d" opacity="0.8"/><path d="M397.79,834.20 L397.79,843.00" stroke="#3a3a3a" stroke-width="0.8"/><path d="M401.67,834.20 L401.67,843.00" stroke="#3a3a3a" stroke-width="0.8"/><path d="M456.43,833.60 L456.43,843.60" stroke="#3a3a3a" stroke-width="0.8"/><path d="M459.86,833.60 L459.86,843.60" stroke="#3a3a3a" stroke-width="0.8"/><rect x="422.50" y="834.60" width="14" height="8" fill="none" stroke="#0c0c0c" stroke-width="0.9"/><circle cx="429.50" cy="838.60" r="0.8" fill="#050505"/></g>
<g><path d="M791.00,834.60 L798.40,832.80 L798.40,842.80 L791.00,841.00 Z" fill="#1b1b1b"/><path d="M856.50,833.40 L843.90,832.00 L843.90,843.60 L856.50,842.20 Z" fill="#1b1b1b"/><rect x="797.40" y="830.80" width="47.50" height="14.00" rx="3.2" fill="#222222"/><rect x="800.40" y="832.00" width="41.50" height="2" rx="1" fill="#3d3d3d" opacity="0.8"/><path d="M792.79,833.40 L792.79,842.20" stroke="#3a3a3a" stroke-width="0.8"/><path d="M794.97,833.40 L794.97,842.20" stroke="#3a3a3a" stroke-width="0.8"/><path d="M848.96,832.80 L848.96,842.80" stroke="#3a3a3a" stroke-width="0.8"/><path d="M853.02,832.80 L853.02,842.80" stroke="#3a3a3a" stroke-width="0.8"/><rect x="814.15" y="833.80" width="14" height="8" fill="none" stroke="#0c0c0c" stroke-width="0.9"/><circle cx="821.15" cy="837.80" r="0.8" fill="#050505"/></g>
</g>
<!-- coil -->
<g id="coil">
  <defs>
    <linearGradient id="gCoilSide" x1="0" y1="0" x2="1" y2="0">
      <stop offset="0" stop-color="#0d0d0d"/>
      <stop offset="0.1" stop-color="#2e2e2e"/>
      <stop offset="0.3" stop-color="#1c1c1c"/>
      <stop offset="0.75" stop-color="#171717"/>
      <stop offset="1" stop-color="#060606"/>
    </linearGradient>
    <linearGradient id="gCoilHi" x1="0" y1="0" x2="1" y2="0">
      <stop offset="0" stop-color="#555" stop-opacity="0.2"/>
      <stop offset="0.15" stop-color="#777" stop-opacity="1"/>
      <stop offset="0.45" stop-color="#5a5a5a" stop-opacity="0.9"/>
      <stop offset="0.8" stop-color="#444" stop-opacity="0.7"/>
      <stop offset="1" stop-color="#333" stop-opacity="0.2"/>
    </linearGradient>
    <clipPath id="clipCoilSide">
      <path d="M844.4,646.0 A68.6,28.0 0 0 0 981.6,646.0 L981.6,697.0 A68.6,24.8 0 0 1 844.4,697.0 Z"/>
    </clipPath>
    <clipPath id="clipCoilHole">
      <ellipse cx="913.0" cy="646.0" rx="54.5" ry="21.6"/>
    </clipPath>
  </defs>
  <path d="M844.4,646.0 A68.6,28.0 0 0 1 981.6,646.0 L981.6,697.0 A68.6,24.8 0 0 1 844.4,697.0 Z" fill="#151515"/>
  <g clip-path="url(#clipCoilSide)">
    <rect x="843.4" y="640" width="139.2" height="90" fill="url(#gCoilSide)"/>
    <path d="M844.4,651.60 A68.6,28.00 0 0 0 981.6,651.60" fill="none" stroke="#050505" stroke-width="1.8"/>
    <path d="M844.4,649.00 A68.6,28.00 0 0 0 981.6,649.00" fill="none" stroke="url(#gCoilHi)" stroke-width="1.2"/>
    <path d="M844.4,657.60 A68.6,27.60 0 0 0 981.6,657.60" fill="none" stroke="#050505" stroke-width="1.8"/>
    <path d="M844.4,655.00 A68.6,27.60 0 0 0 981.6,655.00" fill="none" stroke="url(#gCoilHi)" stroke-width="1.2"/>
    <path d="M844.4,663.60 A68.6,27.20 0 0 0 981.6,663.60" fill="none" stroke="#050505" stroke-width="1.8"/>
    <path d="M844.4,661.00 A68.6,27.20 0 0 0 981.6,661.00" fill="none" stroke="url(#gCoilHi)" stroke-width="1.2"/>
    <path d="M844.4,669.60 A68.6,26.80 0 0 0 981.6,669.60" fill="none" stroke="#050505" stroke-width="1.8"/>
    <path d="M844.4,667.00 A68.6,26.80 0 0 0 981.6,667.00" fill="none" stroke="url(#gCoilHi)" stroke-width="1.2"/>
    <path d="M844.4,675.60 A68.6,26.40 0 0 0 981.6,675.60" fill="none" stroke="#050505" stroke-width="1.8"/>
    <path d="M844.4,673.00 A68.6,26.40 0 0 0 981.6,673.00" fill="none" stroke="url(#gCoilHi)" stroke-width="1.2"/>
    <path d="M844.4,681.60 A68.6,26.00 0 0 0 981.6,681.60" fill="none" stroke="#050505" stroke-width="1.8"/>
    <path d="M844.4,679.00 A68.6,26.00 0 0 0 981.6,679.00" fill="none" stroke="url(#gCoilHi)" stroke-width="1.2"/>
    <path d="M844.4,687.60 A68.6,25.60 0 0 0 981.6,687.60" fill="none" stroke="#050505" stroke-width="1.8"/>
    <path d="M844.4,685.00 A68.6,25.60 0 0 0 981.6,685.00" fill="none" stroke="url(#gCoilHi)" stroke-width="1.2"/>
    <path d="M844.4,693.60 A68.6,25.20 0 0 0 981.6,693.60" fill="none" stroke="#050505" stroke-width="1.8"/>
    <path d="M844.4,691.00 A68.6,25.20 0 0 0 981.6,691.00" fill="none" stroke="url(#gCoilHi)" stroke-width="1.2"/>
    <path d="M844.4,699.60 A68.6,24.80 0 0 0 981.6,699.60" fill="none" stroke="#050505" stroke-width="1.8"/>
    <path d="M844.4,697.00 A68.6,24.80 0 0 0 981.6,697.00" fill="none" stroke="url(#gCoilHi)" stroke-width="1.2"/>
  </g>
  <ellipse cx="913.0" cy="646.0" rx="68.6" ry="28.0" fill="#1b1b1b"/>
  <ellipse cx="913.0" cy="646.0" rx="66.39999999999999" ry="27.0" fill="none" stroke="#5a5a5a" stroke-width="1.1"/>
  <ellipse cx="913.0" cy="646.0" rx="62.99999999999999" ry="25.6" fill="none" stroke="#484848" stroke-width="1.1"/>
  <ellipse cx="913.0" cy="646.0" rx="59.599999999999994" ry="24.2" fill="none" stroke="#555" stroke-width="1.1"/>
  <ellipse cx="913.0" cy="646.0" rx="56.599999999999994" ry="22.8" fill="none" stroke="#3a3a3a" stroke-width="1.1"/>
  <ellipse cx="913.0" cy="646.0" rx="54.5" ry="21.6" fill="#111"/>
  <g clip-path="url(#clipCoilHole)" fill="none" stroke-width="1.3">
    <path d="M858.5,649.50 A54.5,21.6 0 0 1 967.5,649.50" stroke="#6a6a6a"/>
    <path d="M858.5,654.10 A54.5,21.6 0 0 1 967.5,654.10" stroke="#606060"/>
    <path d="M858.5,658.70 A54.5,21.6 0 0 1 967.5,658.70" stroke="#585858"/>
    <path d="M858.5,663.30 A54.5,21.6 0 0 1 967.5,663.30" stroke="#505050"/>
    <path d="M858.5,667.90 A54.5,21.6 0 0 1 967.5,667.90" stroke="#484848"/>
    <path d="M858.5,672.50 A54.5,21.6 0 0 1 967.5,672.50" stroke="#404040"/>
    <path d="M858.5,677.10 A54.5,21.6 0 0 1 967.5,677.10" stroke="#383838"/>
    <path d="M858.5,681.70 A54.5,21.6 0 0 1 967.5,681.70" stroke="#303030"/>
    <path d="M858.5,686.0 A54.5,21.6 0 0 1 967.5,686.0 L967.5,706.0 L858.5,706.0 Z" fill="#0b0b0b" stroke="none"/>
  </g>
  <ellipse cx="913.0" cy="646.0" rx="54.5" ry="21.6" fill="none" stroke="#303030" stroke-width="1"/>
</g>
<!-- camera -->
<g id="camera">
  <defs>
    <linearGradient id="gCamSide" x1="0" y1="0" x2="1" y2="1">
      <stop offset="0" stop-color="#303031"/>
      <stop offset="0.6" stop-color="#252526"/>
      <stop offset="1" stop-color="#2e2e2f"/>
    </linearGradient>
    <linearGradient id="gCamBottom" x1="0" y1="0" x2="0" y2="1">
      <stop offset="0" stop-color="#2a2a2b"/>
      <stop offset="0.5" stop-color="#4a4a4b"/>
      <stop offset="1" stop-color="#8a8a8a"/>
    </linearGradient>
    <radialGradient id="gLens" cx="0.4" cy="0.4" r="0.7">
      <stop offset="0" stop-color="#555"/>
      <stop offset="0.6" stop-color="#1a1a1a"/>
      <stop offset="1" stop-color="#060606"/>
    </radialGradient>
  </defs>
  <!-- bracket -->
  <path fill-rule="evenodd" d="M218.4,778 Q219,774 228.2,773.2 Q234,773 238,774.6 Q246,778 252,780.2 Q260,782.6 268.8,781.6 Q277,780 282.8,776 Q289,770 294,764.8 Q299,761 305.2,761.3 Q311,761.6 315,764.8 Q320,770 329,787.2 L344.4,822.2 Q346,828 341.6,830.6 Q336,832 322,827.8 L308,822.2 L306.6,837.6 Q306,843 302.4,844.6 L288.4,846 L286,818 L228.2,811 Z
    M258.6,800 Q259.6,793 266,792 Q271,792.4 273,797 Q272.4,802 272,806.8 L259.4,806.8 Z
    M280.7,794 Q283,788.6 287,789 Q290,790.4 289.8,794 Q288,797 285,797.4 Q282,797.6 280.7,794 Z
    M231.7,800 L236,797.7 L239.4,801 L239,804 L232.6,803.6 Z" fill="#171717"/>
  <ellipse cx="322.4" cy="798.8" rx="6.5" ry="11.8" transform="rotate(-28 322.4 798.8)" fill="#ffffff"/>
  <path d="M314.6,792 Q317,787.4 321,788 Q327,792 330,800 Q325,795.6 320,794.6 Q316.6,794.4 314.6,792 Z" fill="#bdbdbd" opacity="0.55"/>
  <path d="M252,780.2 Q260,782.6 268.8,781.6 Q277,780 282.8,776 Q289,770 294,764.8 L297,768 Q290,776 284,780 Q276,785 266,785 Q258,785 252,783 Z" fill="#2c2c2c" opacity="0.8"/>
  <!-- screw -->
  <path d="M274.6,805 Q275,801 279,801 L286,801 L287,810 L279,810.6 Q275,810 274.6,805 Z" fill="#b0b0ac"/>
  <circle cx="292.6" cy="805.2" r="7.2" fill="#6f6f6f"/>
  <circle cx="292.6" cy="805.2" r="5.8" fill="#d6d6d2"/>
  <circle cx="292.6" cy="805.2" r="3.4" fill="#9c9c98"/>
  <path d="M288.8,803.4 L296.4,807 M290.8,809 L294.4,801.4" stroke="#4c4c4c" stroke-width="1.4"/>
  <!-- body: side -->
  <path d="M224,806 L283,813.4 Q287.4,814.2 287.6,818 L288.4,884 Q288.4,888 285,889 L230,899.6 L222,896 Z" fill="url(#gCamSide)"/>
  <path d="M273,812.2 L283,813.4 Q287.4,814.2 287.6,818 L288.4,884 Q288.4,888 285,889 L274,891 Z" fill="#202021" opacity="0.8"/>
  <!-- body bottom highlight -->
  <path d="M171,890 L228,889 L287,885 Q289,888.6 285,890.4 L232,900.4 Q228,901 224,900.4 L174,897 Q170,896 171,890 Z" fill="url(#gCamBottom)"/>
  <!-- body: front -->
  <path d="M169,818 Q169,814 173,813.2 L224,805.2 Q228.6,804.8 228.8,809 L228.6,888 Q228.6,892 224.6,892.2 L173,894.6 Q169,894.8 169,891 Z" fill="#2a2a2b"/>
  <path d="M228.4,807 L228.4,890" stroke="#3e3e3f" stroke-width="1" opacity="0.9"/>
  <!-- LEDs -->
  <g>
    <ellipse cx="178.8" cy="825.6" rx="6.2" ry="8" fill="#444445"/>
    <path d="M180.4,818.6 Q184,823 183.4,827 Q181,831.6 178,832.4 Q176,829 176.6,825 Q177.6,821 180.4,818.6 Z" fill="#f3f5e4"/>
    <ellipse cx="214.6" cy="820.8" rx="6.2" ry="8" fill="#444445"/>
    <path d="M216,813.8 Q219.6,818 219.2,822 Q217,827 214,827.8 Q211.6,824 212.2,820 Q213.2,816 216,813.8 Z" fill="#f3f5e4"/>
    <ellipse cx="178" cy="878.2" rx="6.2" ry="7.8" fill="#444445"/>
    <path d="M180,871.6 Q183.4,876 182.8,880 Q180.4,884.4 177.4,885 Q175.4,882 176,878 Q177,874 180,871.6 Z" fill="#f3f5e4"/>
    <ellipse cx="213.6" cy="875.4" rx="6.2" ry="7.8" fill="#444445"/>
    <path d="M215.6,868.6 Q219,873 218.4,877 Q216,881.6 213,882.2 Q211,879 211.6,875 Q212.6,871 215.6,868.6 Z" fill="#f3f5e4"/>
  </g>
  <!-- lens -->
  <ellipse cx="195.4" cy="850" rx="15" ry="21.4" fill="#0c0c0c"/>
  <ellipse cx="196.4" cy="850.4" rx="11.2" ry="17" fill="#a2a2a2"/>
  <path d="M187,842 Q189,834.6 196.4,833.6 Q191,838 189.6,846 Q188.6,854 190.6,860 Q186,852 187,842 Z" fill="#e6e6e6"/>
  <ellipse cx="198.4" cy="851" rx="8.6" ry="14.4" fill="url(#gLens)"/>
  <path d="M193.6,839 Q199,836 203.6,841 L200,853 Q195.6,848 193.6,839 Z" fill="#7a7a7a" opacity="0.55"/>
  <ellipse cx="205.6" cy="850.8" rx="2.3" ry="3.6" fill="#e4343a"/>
</g>
<!-- arrow -->
<g id="arrow" fill="#ff0000">
  <path d="M706.6,557 L716.6,573.4 L711.2,573.4 L711.2,655.6 L702.2,655.6 L702.2,573.4 L696.8,573.4 Z"/>
  <path d="M706.6,787 L716.6,769.4 L711.2,769.4 L711.2,688.4 L702.2,688.4 L702.2,769.4 L696.8,769.4 Z"/>
</g>
<!-- labels -->
<text transform="scale(0.84,1)" x="216.29 235.87 254.72 273.09 280.29 294.80 313.11" y="665" font-size="23.2" font-weight="bold" fill="#7b7b7b" stroke="#7b7b7b" stroke-width="0.5" stroke-linejoin="round">MONITOR</text>
<text transform="scale(0.84,1)" x="218.49 235.45 254.15 274.32 289.18 305.09" y="937.7" font-size="23.2" font-weight="bold" fill="#7b7b7b" stroke="#7b7b7b" stroke-width="0.5" stroke-linejoin="round">CAMERA</text>
<text transform="scale(0.88,1)" x="722.54 739.65 746.55 761.11 774.40 783.86 797.16 805.32 813.49 825.80 834.22 848.27 854.67 868.73 882.79 890.46 903.26" y="270" font-size="23" font-weight="bold" fill="#878787" stroke="#878787" stroke-width="0.6" stroke-linejoin="round">Cigarette Lighter</text>
<text transform="scale(0.85,1)" x="806.91 824.20 848.24 867.76 889.17 905.67 923.79 932.05" y="682.6" font-size="29.6" font-weight="bold" fill="#e60f1c" stroke="#e60f1c" stroke-width="1.0" stroke-linejoin="round">7M Cable</text>
</svg>
</body>
</html>
